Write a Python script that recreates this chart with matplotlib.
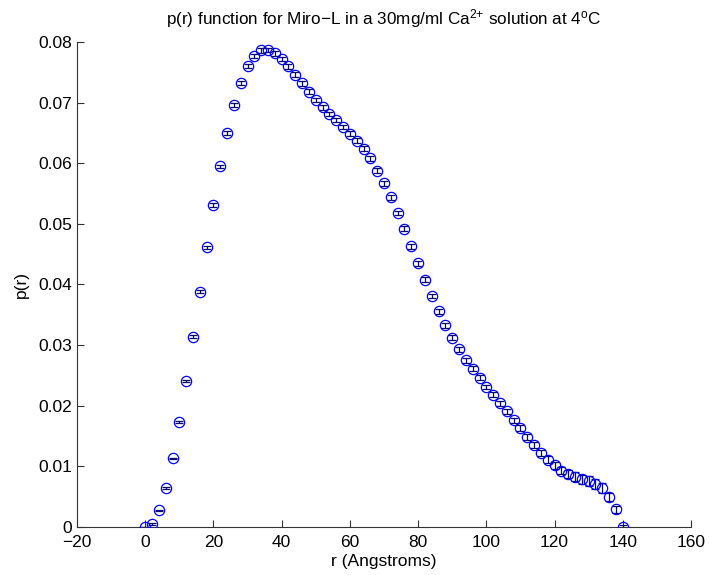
import numpy as np
import matplotlib
matplotlib.use("Agg")
import matplotlib.pyplot as plt

plt.rcParams['font.family'] = ['Liberation Sans', 'DejaVu Sans']
plt.rcParams['mathtext.fontset'] = 'custom'
plt.rcParams['mathtext.rm'] = 'Liberation Sans'
plt.rcParams['mathtext.it'] = 'Liberation Sans:italic'
plt.rcParams['mathtext.bf'] = 'Liberation Sans:bold'

# Pair distance distribution p(r), sampled every 2 Angstroms
r = np.arange(0, 142, 2)
p = [0.0000, 0.0005, 0.00275, 0.0064, 0.0113, 0.0173, 0.0241, 0.0314, 0.0388, 0.0461,
     0.0531, 0.0595, 0.0650, 0.0696, 0.0733, 0.0760, 0.0777, 0.0786, 0.0787, 0.0781,
     0.0772, 0.0760, 0.0746, 0.0732, 0.0718, 0.0704, 0.0692, 0.0681, 0.0671, 0.0660,
     0.0649, 0.0637, 0.0624, 0.0608, 0.0588, 0.0567, 0.0544, 0.0518, 0.0492, 0.0463,
     0.0435, 0.0408, 0.0381, 0.0356, 0.0333, 0.0312, 0.0293, 0.0275, 0.0261, 0.0246,
     0.0231, 0.0218, 0.0204, 0.0191, 0.0176, 0.0163, 0.0149, 0.0135, 0.0122, 0.0111,
     0.0102, 0.0093, 0.0087, 0.0083, 0.0079, 0.0076, 0.0071, 0.0064, 0.0049, 0.0029,
     0.0000]
err = [0.0000, 0.00012, 0.00013, 0.00014, 0.00016, 0.00017, 0.00019, 0.0002, 0.00022, 0.00024,
       0.00026, 0.00028, 0.0003, 0.00032, 0.00034, 0.00035, 0.00036, 0.00037, 0.00038, 0.00038,
       0.00038, 0.00038, 0.00038, 0.00038, 0.00038, 0.00038, 0.00038, 0.00038, 0.00038, 0.00038,
       0.00038, 0.00038, 0.00038, 0.0004, 0.0004, 0.0004, 0.0004, 0.0004, 0.0004, 0.0004,
       0.0004, 0.0004, 0.0004, 0.0004, 0.0004, 0.0004, 0.0004, 0.0004, 0.0004, 0.0004,
       0.0004, 0.0004, 0.0004, 0.0004, 0.00043, 0.00046, 0.00049, 0.00052, 0.00055, 0.00058,
       0.0006, 0.00063, 0.00066, 0.0007, 0.00074, 0.00078, 0.00082, 0.00078, 0.00068, 0.00055,
       0.0004]

x_ticks = [-20, 0, 20, 40, 60, 80, 100, 120, 140, 160]
y_ticks = [0, 0.01, 0.02, 0.03, 0.04, 0.05, 0.06, 0.07, 0.08]
y_tick_labels = ['0', '0.01', '0.02', '0.03', '0.04', '0.05', '0.06', '0.07', '0.08']

fig = plt.figure(figsize=(7.09, 5.75), dpi=100)
ax = fig.add_axes([0.1086, 0.0835, 0.8660, 0.8435])

ax.errorbar(r, p, yerr=err, fmt='none', ecolor='#0a0a66', elinewidth=0.9,
            capsize=3.2, capthick=0.9, zorder=2)
ax.plot(r, p, 'o', mfc='none', mec='#0000ff', ms=7.4, mew=0.9, zorder=3)

ax.set_xlim(-20, 160)
ax.set_ylim(0, 0.08)
ax.set_xticks(x_ticks)
ax.set_xticklabels([('\u2212' + str(-t)) if t < 0 else str(t) for t in x_ticks])
ax.set_yticks(y_ticks)
ax.set_yticklabels(y_tick_labels)

for side in ('top', 'right'):
    ax.spines[side].set_visible(False)
for side in ('left', 'bottom'):
    ax.spines[side].set_linewidth(0.8)
    ax.spines[side].set_color('#333333')
ax.tick_params(direction='in', length=5, width=0.8, color='#333333',
               labelsize=12.5)
ax.tick_params(axis='x', pad=6)
ax.tick_params(axis='y', pad=3.5)

ax.set_title('p(r) function for Miro\u2212L in a 30mg/ml Ca$^{\\mathrm{2{+}}}$ solution at 4$^{\\mathrm{o}}$C',
             fontsize=12.3, pad=13)
ax.set_xlabel('r (Angstroms)', fontsize=12.5, labelpad=3)
ax.set_ylabel('p(r)', fontsize=12.5, labelpad=7)

fig.savefig('out.png', dpi=100)
